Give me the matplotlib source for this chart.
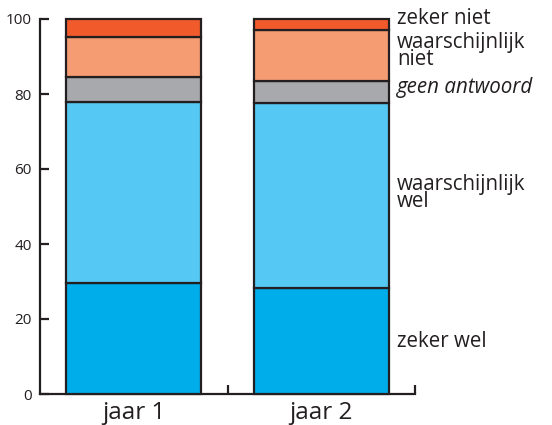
import matplotlib
matplotlib.use('Agg')
import matplotlib.pyplot as plt
import numpy as np

# categories and stacked values (percent), bottom to top
categories = ['jaar 1', 'jaar 2']
segments = ['zeker wel', 'waarschijnlijk\nwel', 'geen antwoord',
            'waarschijnlijk\nniet', 'zeker niet']
zeker_wel = [29.5, 28.2]
waarschijnlijk_wel = [48.5, 49.3]
geen_antwoord = [6.6, 6.0]
waarschijnlijk_niet = [10.5, 13.6]
zeker_niet = [4.9, 2.9]
yticks = [0, 20, 40, 60, 80, 100]

series = [zeker_wel, waarschijnlijk_wel, geen_antwoord,
          waarschijnlijk_niet, zeker_niet]
colours = ['#00ADEB', '#55C9F3', '#A7A9AC', '#F69C72', '#F15A2B']
edge = '#231F20'

plt.rcParams['font.family'] = ['Open Sans', 'DejaVu Sans']

fig = plt.figure(figsize=(5.52, 4.25), dpi=100)
ax = fig.add_axes([40 / 552, 31 / 425, 375 / 552, 375 / 425])

x = np.arange(len(categories))
bottom = np.zeros(len(categories))
for vals, col in zip(series, colours):
    ax.bar(x, vals, width=0.72, bottom=bottom, color=col,
           edgecolor=edge, linewidth=1.6, clip_on=False, zorder=3)
    bottom += np.array(vals)

ax.set_xlim(-0.5, 1.5)
ax.set_ylim(0, 100)

for side in ['top', 'right']:
    ax.spines[side].set_visible(False)
for side in ['left', 'bottom']:
    ax.spines[side].set_linewidth(1.6)
    ax.spines[side].set_color(edge)

ax.set_yticks(yticks)
ax.set_yticklabels([str(v) for v in yticks], fontsize=11, color=edge)
ax.tick_params(axis='y', direction='in', length=6.5, width=1.6,
               color=edge, pad=6)

ax.set_xticks(x)
ax.set_xticklabels(categories, fontsize=17.5, color=edge)
ax.tick_params(axis='x', which='major', length=0, pad=5)
ax.set_xticks([0.5, 1.5], minor=True)
ax.tick_params(axis='x', which='minor', direction='in', length=6.5,
               width=1.6, color=edge)

# segment labels on the right, next to the jaar 2 bar
label_x = 1.404
label_y = [14.1, 53.6, 81.6, 91.4, 100.2]
for name, yy in zip(segments, label_y):
    style = 'italic' if name == 'geen antwoord' else 'normal'
    ax.text(label_x, yy, name, fontsize=14.8, color=edge, style=style,
            ha='left', va='center', linespacing=0.72, clip_on=False)

fig.savefig('out.png', dpi=100, facecolor='white')
